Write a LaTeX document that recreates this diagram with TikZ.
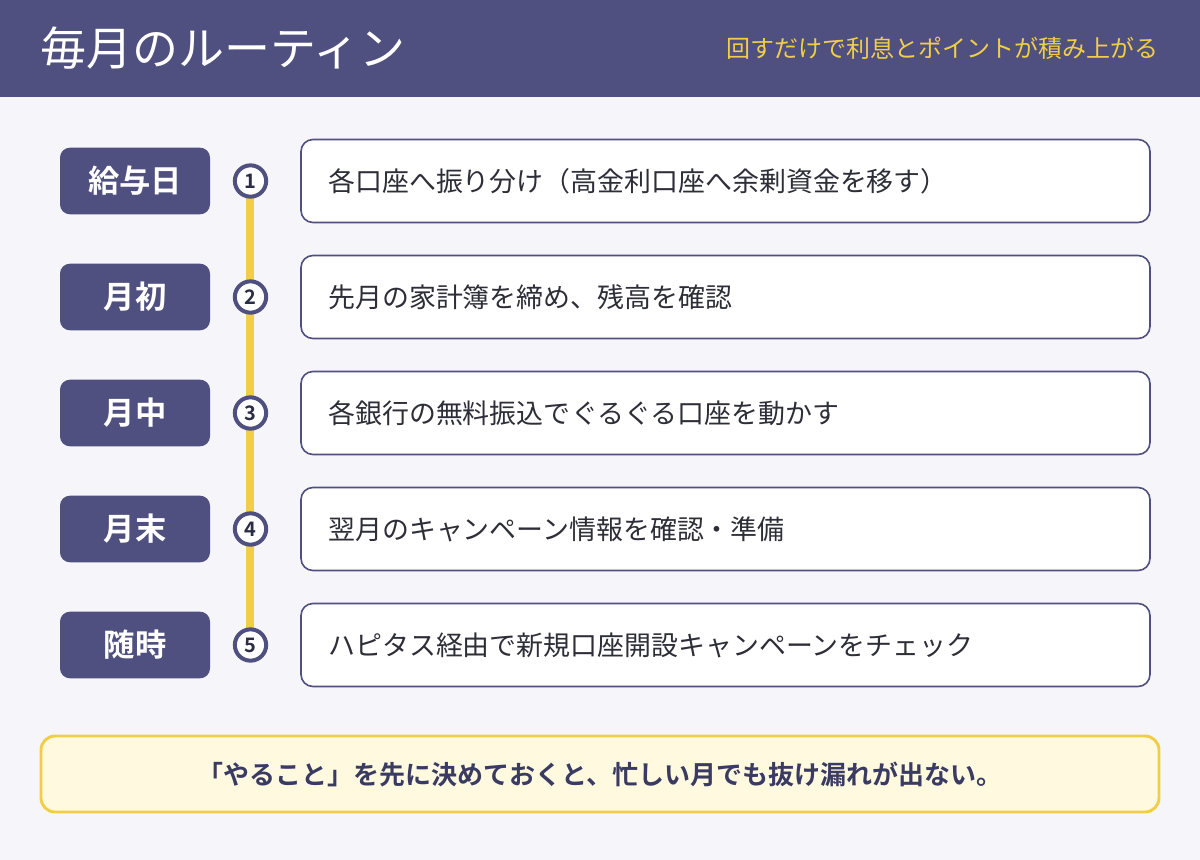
\documentclass[tikz,border=0pt]{standalone}
\usepackage{fontspec}
\setmainfont{Noto Sans CJK JP}[BoldFont={Noto Sans CJK JP Bold}]
\definecolor{navy}{HTML}{4F5080}
\definecolor{gold}{HTML}{F0CE4A}
\definecolor{bgc}{HTML}{F6F5FA}
\definecolor{notefill}{HTML}{FFF9E0}
\definecolor{txt}{HTML}{2E2E38}
\definecolor{notetxt}{HTML}{3A3B62}
\tikzset{
  px/.style={x=0.75pt,y=-0.75pt},
  lbl/.style={draw=none,fill=navy,rounded corners=7.5pt,minimum width=112.5pt,minimum height=50pt,text=white,font=\fontsize{23.5}{25}\selectfont\bfseries,inner sep=0pt},
  task/.style={draw=navy,line width=1.2pt,fill=white,rounded corners=9pt,minimum width=636.75pt,minimum height=62.25pt,inner sep=0pt},
  tasktext/.style={anchor=west,text=txt,font=\fontsize{20.2}{22}\selectfont,inner sep=0pt},
  numc/.style={circle,draw=navy,line width=3pt,fill=white,minimum size=23.5pt,inner sep=0pt,text=navy!55!black,font=\fontsize{15}{16}\selectfont\bfseries},
}
\begin{document}
\begin{tikzpicture}[px]
\useasboundingbox (0,0) rectangle (1200,860);
\fill[bgc] (0,0) rectangle (1200,860);
\fill[navy] (0,0) rectangle (1200,97);
\node[anchor=west,text=white,font=\fontsize{34.5}{36}\selectfont,inner sep=0pt] (title) at (40,48) {毎月のルーティン};
\node[anchor=east,text=gold,font=\fontsize{18}{20}\selectfont,inner sep=0pt] (sub) at (1159,48) {回すだけで利息とポイントが積み上がる};
% timeline
\draw[gold,line width=5.5pt] (250,181) -- (250,645);
\foreach \i/\y/\l/\t in {1/181/給与日/各口座へ振り分け（高金利口座へ余剰資金を移す）,
                         2/297/月初/先月の家計簿を締め、残高を確認,
                         3/413/月中/各銀行の無料振込でぐるぐる口座を動かす,
                         4/529/月末/翌月のキャンペーン情報を確認・準備,
                         5/645/随時/ハピタス経由で新規口座開設キャンペーンをチェック}{
  \node[lbl] (L\i) at (135,\y) {\l};
  \node[numc] (C\i) at (250.5,\y) {\i};
  \node[task] (T\i) at (725.5,\y) {};
  \node[tasktext] (X\i) at (328,\y) {\t};
}
\node[draw=gold,line width=2.2pt,fill=notefill,rounded corners=10.5pt,minimum width=838.5pt,minimum height=57pt,inner sep=0pt] (note) at (600,774) {};
\node[text=notetxt,font=\fontsize{19.5}{21}\selectfont\bfseries,inner sep=0pt] (notetext) at (600,774) {「やること」を先に決めておくと、忙しい月でも抜け漏れが出ない。};
\end{tikzpicture}
\end{document}
